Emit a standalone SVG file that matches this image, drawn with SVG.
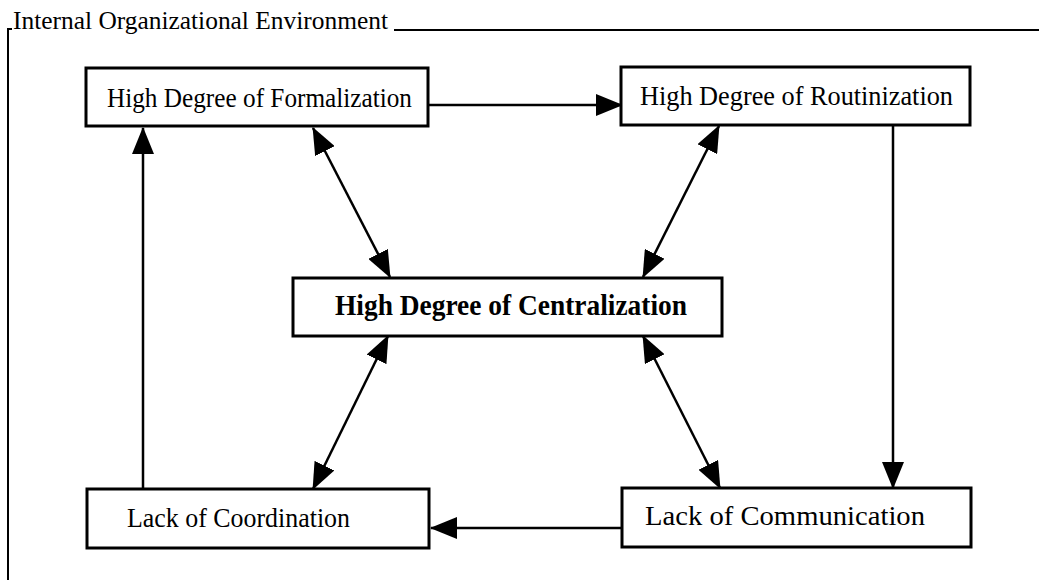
<svg xmlns="http://www.w3.org/2000/svg" width="1039" height="580" viewBox="0 0 1039 580">
<style>
.box{fill:#fff;stroke:#000;stroke-width:3}
.lbl{font-family:"Liberation Serif","Times New Roman",serif;font-size:28px;fill:#000}
.bold{font-weight:bold;font-size:29px}
.con{stroke:#000;stroke-width:2.5;fill:none}
.frame{stroke:#000;stroke-width:2;fill:none}
</style>
<defs>
<marker id="ah" viewBox="0 0 27 22" refX="26" refY="11" markerWidth="27" markerHeight="22" orient="auto-start-reverse" markerUnits="userSpaceOnUse">
<path d="M0,0 L27,11 L0,22 z" fill="#000"/>
</marker>
</defs>
<g id="frame">
<text class="lbl" x="13" y="29" textLength="375" lengthAdjust="spacingAndGlyphs" style="font-size:25px">Internal Organizational Environment</text>
<path class="frame" d="M8,580 V29 H12"/>
<path class="frame" d="M394,30 H1039"/>
</g>
<g id="connectors">
<line class="con" x1="428" y1="105" x2="622" y2="105" marker-end="url(#ah)"/>
<line class="con" x1="893" y1="125" x2="893" y2="488" marker-end="url(#ah)"/>
<line class="con" x1="622" y1="528" x2="431" y2="528" marker-end="url(#ah)"/>
<line class="con" x1="143" y1="489" x2="143" y2="128" marker-end="url(#ah)"/>
<line class="con" x1="313" y1="128" x2="390" y2="277" marker-start="url(#ah)" marker-end="url(#ah)"/>
<line class="con" x1="719" y1="126" x2="643" y2="277" marker-start="url(#ah)" marker-end="url(#ah)"/>
<line class="con" x1="388" y1="336" x2="313" y2="489" marker-start="url(#ah)" marker-end="url(#ah)"/>
<line class="con" x1="643" y1="336" x2="720" y2="488" marker-start="url(#ah)" marker-end="url(#ah)"/>
</g>
<g id="formalization">
<rect class="box" x="86" y="68" width="342" height="58"/>
<text class="lbl" x="107" y="107" textLength="305" lengthAdjust="spacingAndGlyphs">High Degree of Formalization</text>
</g>
<g id="routinization">
<rect class="box" x="621" y="67" width="349" height="58"/>
<text class="lbl" x="640" y="105" textLength="313" lengthAdjust="spacingAndGlyphs">High Degree of Routinization</text>
</g>
<g id="centralization">
<rect class="box" x="293" y="278" width="429" height="58"/>
<text class="lbl bold" x="335" y="315" textLength="352" lengthAdjust="spacingAndGlyphs">High Degree of Centralization</text>
</g>
<g id="coordination">
<rect class="box" x="87" y="489" width="342" height="59"/>
<text class="lbl" x="127" y="527" textLength="223" lengthAdjust="spacingAndGlyphs">Lack of Coordination</text>
</g>
<g id="communication">
<rect class="box" x="622" y="488" width="349" height="59"/>
<text class="lbl" x="645" y="525" textLength="280" lengthAdjust="spacingAndGlyphs">Lack of Communication</text>
</g>
</svg>
